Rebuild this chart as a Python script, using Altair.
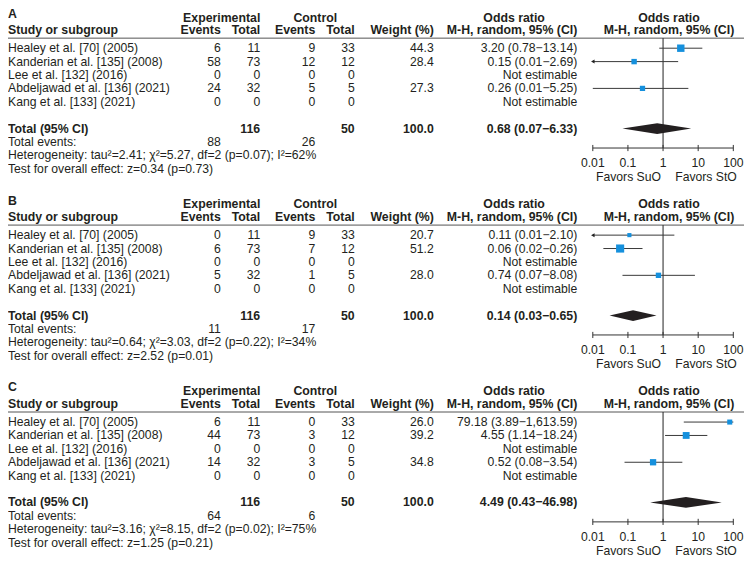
import altair as alt
import pandas as pd

# ---------------- data ----------------
panels = ["A", "B", "C"]
studies = [
    "Healey et al. [70] (2005)",
    "Kanderian et al. [135] (2008)",
    "Lee et al. [132] (2016)",
    "Abdeljawad et al. [136] (2021)",
    "Kang et al. [133] (2021)",
]
exp_total = [11, 73, 0, 32, 0]
ctrl_total = [33, 12, 0, 5, 0]

exp_events_A = [6, 58, 0, 24, 0]
ctrl_events_A = [9, 12, 0, 5, 0]
weight_A = [44.3, 28.4, None, 27.3, None]
or_A = [3.20, 0.15, None, 0.26, None]
lo_A = [0.78, 0.01, None, 0.01, None]
hi_A = [13.14, 2.69, None, 5.25, None]
arrow_A = [False, True, False, False, False]

exp_events_B = [0, 6, 0, 5, 0]
ctrl_events_B = [9, 7, 0, 1, 0]
weight_B = [20.7, 51.2, None, 28.0, None]
or_B = [0.11, 0.06, None, 0.74, None]
lo_B = [0.01, 0.02, None, 0.07, None]
hi_B = [2.10, 0.26, None, 8.08, None]
arrow_B = [True, False, False, False, False]

exp_events_C = [6, 44, 0, 14, 0]
ctrl_events_C = [0, 3, 0, 3, 0]
weight_C = [26.0, 39.2, None, 34.8, None]
or_C = [79.18, 4.55, None, 0.52, None]
lo_C = [3.89, 1.14, None, 0.08, None]
hi_C = [1613.59, 18.24, None, 3.54, None]
arrow_C = [False, False, False, False, False]

total_n_exp = 116
total_n_ctrl = 50
total_weight = [100.0, 100.0, 100.0]
total_or = [0.68, 0.14, 4.49]
total_lo = [0.07, 0.03, 0.43]
total_hi = [6.33, 0.65, 46.98]
total_events_exp = [88, 11, 64]
total_events_ctrl = [26, 17, 6]
heterogeneity = [
    "Heterogeneity: tau²=2.41; χ²=5.27, df=2 (p=0.07); I²=62%",
    "Heterogeneity: tau²=0.64; χ²=3.03, df=2 (p=0.22); I²=34%",
    "Heterogeneity: tau²=3.16; χ²=8.15, df=2 (p=0.02); I²=75%",
]
overall_effect = [
    "Test for overall effect: z=0.34 (p=0.73)",
    "Test for overall effect: z=2.52 (p=0.01)",
    "Test for overall effect: z=1.25 (p=0.21)",
]
ticks = [0.01, 0.1, 1, 10, 100]
tick_labels = ["0.01", "0.1", "1", "10", "100"]
favors = ["Favors SuO", "Favors StO"]

panel_data = {
    "A": (exp_events_A, ctrl_events_A, weight_A, or_A, lo_A, hi_A, arrow_A),
    "B": (exp_events_B, ctrl_events_B, weight_B, or_B, lo_B, hi_B, arrow_B),
    "C": (exp_events_C, ctrl_events_C, weight_C, or_C, lo_C, hi_C, arrow_C),
}

# ---------------- layout ----------------
W, H = 736, 551
STEP = 13.95
Y0 = -3.0
Y1 = Y0 + H / 13.4
REG_FONT, REG_SIZE = "Liberation Sans", 12.2
BOLD_FONT, BOLD_SIZE = "Liberation Sans", 12.3
TXT = "#231f20"
BLUE = "#1590dd"

left_col = ("c0", 0)
right_cols = [("c1", 212.8), ("c2", 252.2), ("c3", 307.3), ("c4", 346.7),
              ("c5", 425.8), ("c6", 569.3)]
center_cols = [("k1", 213.7), ("k2", 307.3), ("k3", 506.1), ("k4", 661.0)]
FAV_X = [620.5, 698.0]


def ci_text(o, l, h):
    return f"{o:.2f} ({l:.2f}\u2212{h:,.2f})"


rows = []
ci_rows = []
vline, hline, axis_rows, tick_rows, tick_text, fav_rows, diamond = [], [], [], [], [], [], []
for p, lab in enumerate(panels):
    off = p * STEP
    ee, ce, wt, orv, lov, hiv, arr = panel_data[lab]
    rows.append(dict(line=off - 2.58, bold=True, c0=lab))
    rows.append(dict(line=off - 2.29, bold=True, k1="Experimental", k2="Control",
                     k3="Odds ratio", k4="Odds ratio"))
    rows.append(dict(line=off - 1.33, bold=True, c0="Study or subgroup", c1="Events",
                     c2="Total", c3="Events", c4="Total", c5="Weight (%)",
                     c6="M-H, random, 95% (CI)", k4="M-H, random, 95% (CI)"))
    for i, s in enumerate(studies):
        est = orv[i] is not None
        rows.append(dict(line=off + i, bold=False, c0=s, c1=str(ee[i]), c2=str(exp_total[i]),
                         c3=str(ce[i]), c4=str(ctrl_total[i]),
                         c5=f"{wt[i]:.1f}" if est else "",
                         c6=ci_text(orv[i], lov[i], hiv[i]) if est else "Not estimable"))
        if est:
            ci_rows.append(dict(line=off + i, o=orv[i], lo=lov[i], hi=hiv[i],
                                weight=wt[i], arrow=arr[i]))
    rows.append(dict(line=off + 6, bold=True, c0="Total (95% CI)", c2=str(total_n_exp),
                     c4=str(total_n_ctrl), c5=f"{total_weight[p]:.1f}",
                     c6=ci_text(total_or[p], total_lo[p], total_hi[p])))
    rows.append(dict(line=off + 7, bold=False, c0="Total events:",
                     c1=str(total_events_exp[p]), c3=str(total_events_ctrl[p])))
    rows.append(dict(line=off + 8, bold=False, c0=heterogeneity[p]))
    rows.append(dict(line=off + 9, bold=False, c0=overall_effect[p]))

    hline.append(dict(line=off - 0.75))
    vline.append(dict(x=1, line=off - 0.75, line2=off + 7.45))
    axis_rows.append(dict(x=ticks[0], x2=ticks[-1], line=off + 7.45))
    for t, tl in zip(ticks, tick_labels):
        tick_rows.append(dict(x=t, line=off + 7.45 - 0.23, line2=off + 7.45 + 0.23))
        tick_text.append(dict(x=t, line=off + 8.6, label=tl))
    fav_rows.append(dict(line=off + 9.6, f0=favors[0], f1=favors[1]))
    tl_ = off + 6
    diamond += [
        dict(panel=lab, x=total_lo[p], y=tl_, y2=tl_),
        dict(panel=lab, x=total_or[p], y=tl_ - 0.4, y2=tl_ + 0.4),
        dict(panel=lab, x=total_hi[p], y=tl_, y2=tl_),
    ]

text_df = pd.DataFrame(rows).fillna("")
reg_df = text_df[text_df["bold"] == False].drop(columns="bold")
bold_df = text_df[text_df["bold"] == True].drop(columns="bold")
ci_df = pd.DataFrame(ci_rows)
arrow_df = ci_df[ci_df["arrow"]]

yscale = alt.Scale(domain=[Y0, Y1], range=[0, H], nice=False, zero=False)
xscale = alt.Scale(type="log", domain=[0.01, 100], range=[584.8, 725.3], clamp=True, nice=False)


def Y(f="line"):
    return alt.Y(f"{f}:Q", scale=yscale, axis=None)


def X(f):
    return alt.X(f"{f}:Q", scale=xscale, axis=None)


layers = []
for df, bold in ((reg_df, False), (bold_df, True)):
    font = BOLD_FONT if bold else REG_FONT
    size = BOLD_SIZE if bold else REG_SIZE
    weight = "bold" if bold else "normal"
    specs = [(left_col, "left")] + [(c, "right") for c in right_cols] + [(c, "center") for c in center_cols]
    for (col, xpos), align in specs:
        sub = df[df[col] != ""][["line", col]]
        if len(sub) == 0:
            continue
        layers.append(
            alt.Chart(sub).mark_text(align=align, baseline="middle", font=font,
                                     fontSize=size, fontWeight=weight, color=TXT)
            .encode(x=alt.value(xpos), y=Y(), text=f"{col}:N")
        )

# header lines
layers.append(alt.Chart(pd.DataFrame(hline)).mark_rule(color="#555", strokeWidth=1)
              .encode(x=alt.value(0), x2=alt.value(W), y=Y()))
# vertical line at OR = 1
layers.append(alt.Chart(pd.DataFrame(vline)).mark_rule(color="#222", strokeWidth=1)
              .encode(x=X("x"), y=Y(), y2="line2:Q"))
# CI lines
layers.append(alt.Chart(ci_df).mark_rule(color="#3a3a3a", strokeWidth=1)
              .encode(x=X("lo"), x2="hi:Q", y=Y()))
# arrows
layers.append(alt.Chart(arrow_df).mark_point(shape="triangle-left", filled=True, color="#222",
                                             size=16, strokeWidth=0, opacity=1)
              .encode(x=X("lo"), y=Y()))
# squares
layers.append(alt.Chart(ci_df).mark_point(shape="square", filled=True, color=BLUE,
                                          strokeWidth=0, opacity=1)
              .encode(x=X("o"), y=Y(),
                      size=alt.Size("weight:Q", scale=alt.Scale(domain=[10, 60], range=[0, 80]),
                                    legend=None)))
# diamonds
layers.append(alt.Chart(pd.DataFrame(diamond)).mark_area(color="#231f20", interpolate="linear",
                                                         opacity=1)
              .encode(x=X("x"), y=Y("y"), y2="y2:Q", detail="panel:N"))
# axis
layers.append(alt.Chart(pd.DataFrame(axis_rows)).mark_rule(color="#333", strokeWidth=1)
              .encode(x=X("x"), x2="x2:Q", y=Y()))
layers.append(alt.Chart(pd.DataFrame(tick_rows)).mark_rule(color="#333", strokeWidth=1)
              .encode(x=X("x"), y=Y(), y2="line2:Q"))
layers.append(alt.Chart(pd.DataFrame(tick_text)).mark_text(align="center", baseline="middle",
                                                           font=REG_FONT, fontSize=REG_SIZE, color=TXT)
              .encode(x=X("x"), y=Y(), text="label:N"))
fav_df = pd.DataFrame(fav_rows)
for i, fx in enumerate(FAV_X):
    layers.append(alt.Chart(fav_df).mark_text(align="center", baseline="middle",
                                              font=REG_FONT, fontSize=REG_SIZE, color=TXT)
                  .encode(x=alt.value(fx), y=Y(), text=f"f{i}:N"))

chart = (
    alt.layer(*layers)
    .properties(width=W, height=H, padding=0, autosize="none", background="white")
    .configure_view(stroke=None)
)

chart.save("out.html", embed_options={"renderer": "svg", "actions": False})
